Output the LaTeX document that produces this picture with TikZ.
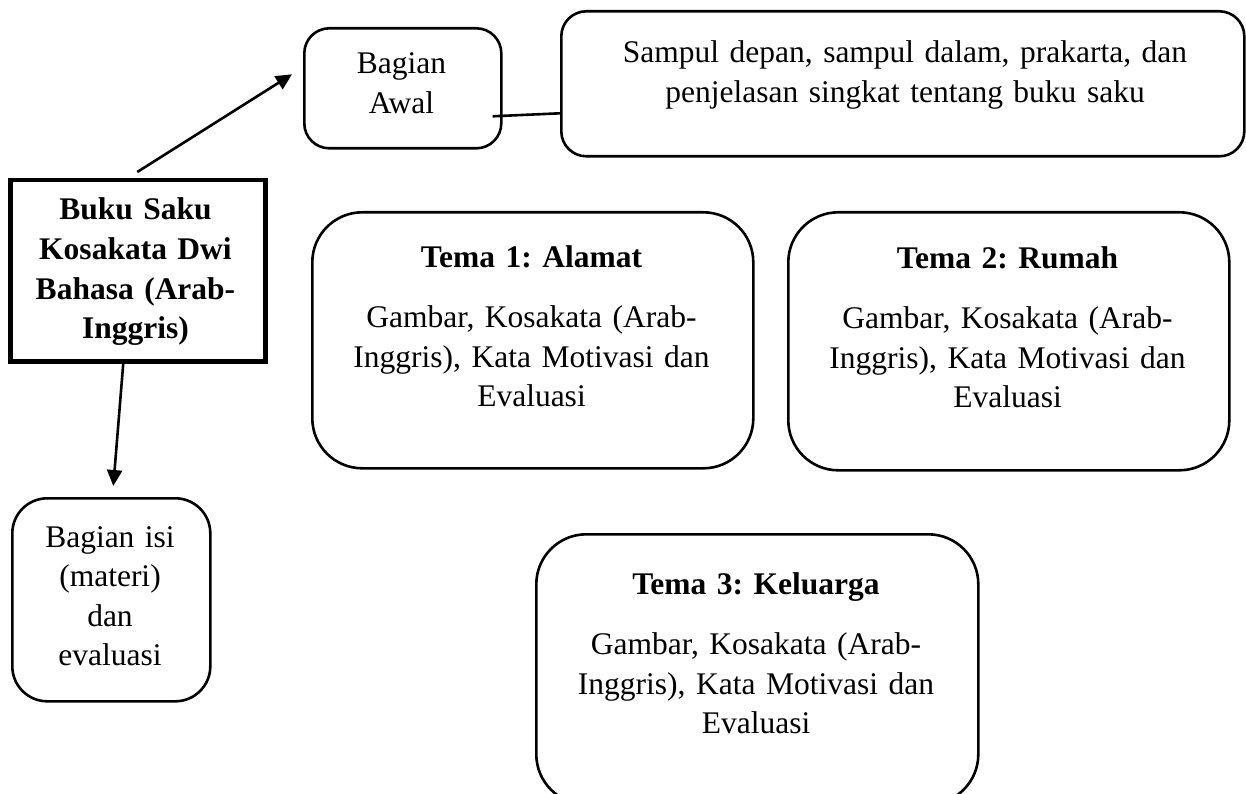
\documentclass[tikz,border=0pt]{standalone}
\usepackage{fontspec}
\setmainfont{Liberation Serif}
\usetikzlibrary{arrows.meta}
\frenchspacing
\begin{document}
\begin{tikzpicture}[x=1pt,y=-1pt,
  box/.style={draw, line width=2.6pt, anchor=north west, inner sep=0pt},
  txt/.style={anchor=base, inner sep=0pt, align=center, text width=#1,
    font=\fontsize{31.5}{39.5}\selectfont\frenchspacing},
  arr/.style={line width=2.6pt, -{Triangle[length=16pt,width=15pt]}},
  con/.style={line width=2.6pt}]
\useasboundingbox (0,0) rectangle (1246,794);
% boxes
\node[box, line width=4.5pt, minimum width=255pt, minimum height=181pt] (main) at (8,178) {};
\node[box, rounded corners=25pt, minimum width=197pt, minimum height=120pt] (awal) at (303,27) {};
\node[box, rounded corners=25pt, minimum width=683pt, minimum height=145pt] (sampul) at (560,10) {};
\node[box, rounded corners=50pt, minimum width=441pt, minimum height=256pt] (tema1) at (311,211) {};
\node[box, rounded corners=50pt, minimum width=441pt, minimum height=258pt] (tema2) at (787,211) {};
\node[box, rounded corners=50pt, minimum width=442pt, minimum height=270pt] (tema3) at (535,533) {};
\node[box, rounded corners=35pt, minimum width=198pt, minimum height=203pt] (isi) at (11,497) {};
% texts
\node[txt=240pt] (maint) at (135.5,220) {\bfseries Buku Saku\\Kosakata Dwi\\Bahasa (Arab-\\Inggris)};
\node[txt=190pt] (awalt) at (401.5,74) {Bagian\\Awal};
\node[txt=660pt] (sampult) at (905,63) {Sampul depan, sampul dalam, prakarta, dan\\penjelasan singkat tentang buku saku};
\node[txt=430pt] (tema1t) at (531.5,267) {\textbf{Tema 1: Alamat}\\[21pt]Gambar, Kosakata (Arab-\\Inggris), Kata Motivasi dan\\Evaluasi};
\node[txt=430pt] (tema2t) at (1007.5,268) {\textbf{Tema 2: Rumah}\\[21pt]Gambar, Kosakata (Arab-\\Inggris), Kata Motivasi dan\\Evaluasi};
\node[txt=430pt] (tema3t) at (756,594) {\textbf{Tema 3: Keluarga}\\[21pt]Gambar, Kosakata (Arab-\\Inggris), Kata Motivasi dan\\Evaluasi};
\node[txt=190pt] (isit) at (110,547) {Bagian isi\\(materi)\\dan\\evaluasi};
% connectors
\draw[arr] ([xshift=-0.5pt,yshift=6pt]main.north) -- ([xshift=-11pt,yshift=14pt]awal.west);
\draw[arr] ([xshift=-14.5pt]main.south) -- ([xshift=2pt,yshift=11pt]isi.north);
\draw[con] ([xshift=-10pt,yshift=-28pt]awal.east) -- ([yshift=-29.5pt]sampul.west);
\end{tikzpicture}
\end{document}
